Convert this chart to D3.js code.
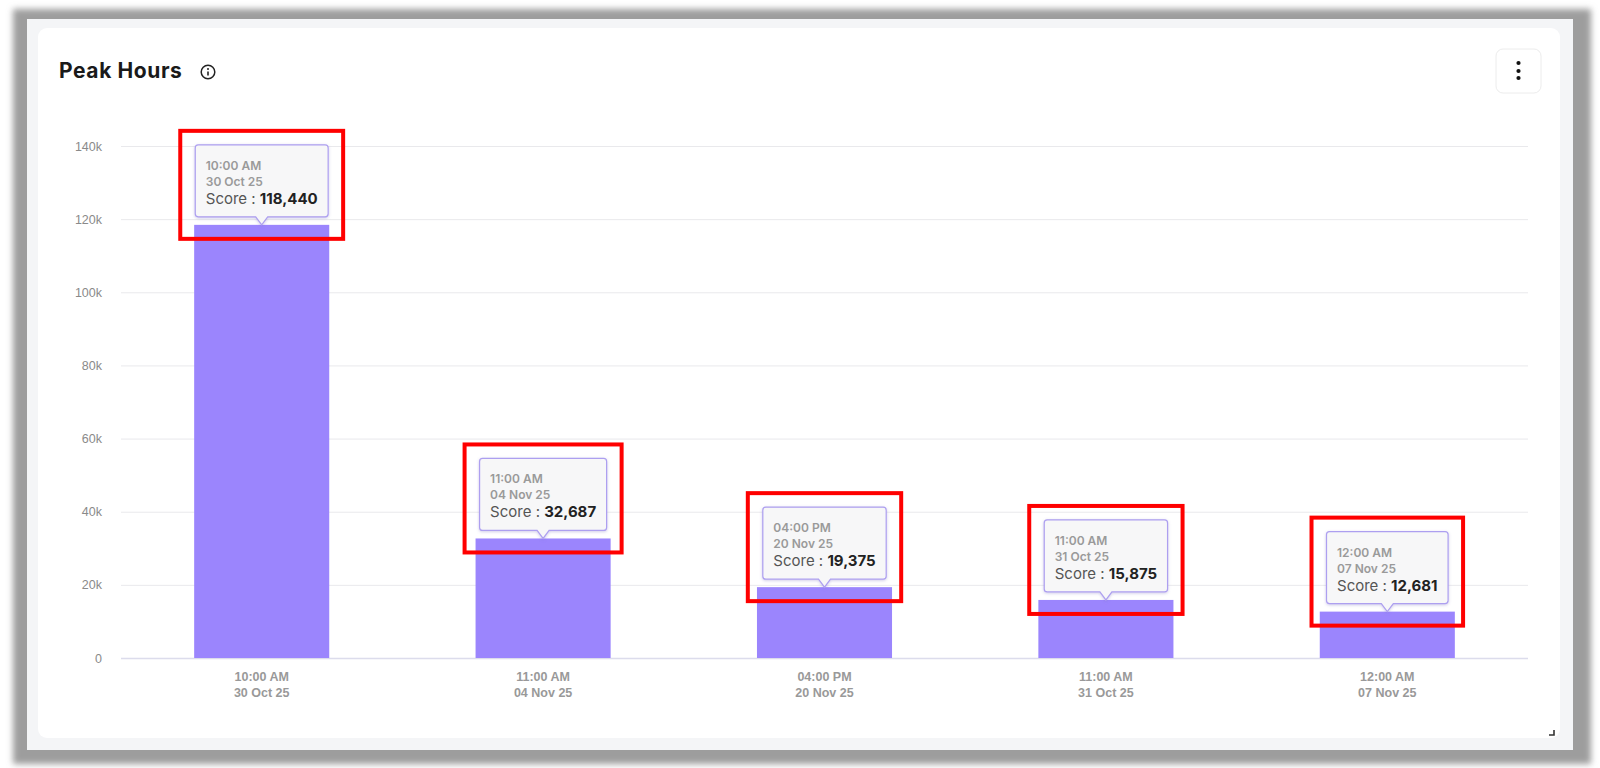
<!DOCTYPE html>
<html>
<head>
<meta charset="utf-8">
<script src="https://cdn.jsdelivr.net/npm/d3@7"></script>
<style>
  body { margin: 0; background: #fff; }
  svg { display: block; font-family: Inter, "Open Sans", sans-serif; }
</style>
</head>
<body>
<div id="wrapper"></div>
<script>
const times = ["10:00 AM", "11:00 AM", "04:00 PM", "11:00 AM", "12:00 AM"]
const dates = ["30 Oct 25", "04 Nov 25", "20 Nov 25", "31 Oct 25", "07 Nov 25"]
const scores = [118440, 32687, 19375, 15875, 12681]
const yTicks = [0, 20000, 40000, 60000, 80000, 100000, 120000, 140000]

function drawChart() {
  const data = times.map((t, i) => ({ key: i, time: t, date: dates[i], score: scores[i] }))

  let dimensions = {
    width: 1600,
    height: 768,
    margin: { top: 146, right: 72, bottom: 110, left: 121 },
  }
  dimensions.boundedWidth = dimensions.width - dimensions.margin.left - dimensions.margin.right
  dimensions.boundedHeight = dimensions.height - dimensions.margin.top - dimensions.margin.bottom

  const svg = d3.select("#wrapper")
    .append("svg")
      .attr("width", dimensions.width)
      .attr("height", dimensions.height)

  const defs = svg.append("defs")
  defs.append("filter").attr("id", "frameBlur")
      .attr("x", "-5%").attr("y", "-5%").attr("width", "110%").attr("height", "110%")
    .append("feGaussianBlur").attr("stdDeviation", 3)
  const tipShadow = defs.append("filter").attr("id", "tipShadow")
      .attr("x", "-20%").attr("y", "-20%").attr("width", "140%").attr("height", "140%")
  tipShadow.append("feDropShadow")
      .attr("dx", 0).attr("dy", 1).attr("stdDeviation", 1.5)
      .attr("flood-color", "#7a6fc0").attr("flood-opacity", 0.35)

  // screenshot frame + page background + card
  svg.append("rect")
      .attr("x", 13).attr("y", 9).attr("width", 1578).attr("height", 755)
      .attr("fill", "#9d9d9d").attr("filter", "url(#frameBlur)")
  svg.append("rect")
      .attr("x", 27).attr("y", 19).attr("width", 1546).attr("height", 731)
      .attr("fill", "#f4f5f7")
  svg.append("rect")
      .attr("x", 38).attr("y", 28).attr("width", 1522).attr("height", 710)
      .attr("rx", 9).attr("fill", "#fff")

  // header
  svg.append("text")
      .attr("x", 59).attr("y", 78)
      .attr("font-size", 21).attr("font-weight", 700).attr("fill", "#1a1a1a")
      .attr("letter-spacing", 0.6)
      .text("Peak Hours")
  const info = svg.append("g").attr("transform", "translate(208,72)")
  info.append("circle").attr("r", 6.8).attr("fill", "none").attr("stroke", "#222").attr("stroke-width", 1.5)
  info.append("circle").attr("cy", -3).attr("r", 1).attr("fill", "#222")
  info.append("line").attr("y1", -0.5).attr("y2", 3.5).attr("stroke", "#222").attr("stroke-width", 1.6)

  const menu = svg.append("g").attr("transform", "translate(1496,49)")
  menu.append("rect").attr("width", 45).attr("height", 44).attr("rx", 7)
      .attr("fill", "#fff").attr("stroke", "#ececec")
  menu.selectAll("circle").data([14, 22, 29]).join("circle")
      .attr("cx", 22.5).attr("cy", d => d).attr("r", 2.1).attr("fill", "#111")

  // resize corner
  svg.append("path").attr("d", "M1549,735 L1554,735 L1554,730")
      .attr("fill", "none").attr("stroke", "#333").attr("stroke-width", 1.6)

  const bounds = svg.append("g")
      .attr("transform", `translate(${dimensions.margin.left},${dimensions.margin.top})`)

  const xScale = d3.scaleBand()
      .domain(data.map(d => d.key))
      .range([0, dimensions.boundedWidth])
      .paddingInner(0.52)
      .paddingOuter(0.26)

  const yScale = d3.scaleLinear()
      .domain([0, 140000])
      .range([dimensions.boundedHeight, 0])

  // y axis + grid
  const yAxisGenerator = d3.axisLeft(yScale)
      .tickValues(yTicks)
      .tickSize(-dimensions.boundedWidth)
      .tickPadding(19)
      .tickFormat(d => d === 0 ? "0" : d / 1000 + "k")
  const yAxis = bounds.append("g").call(yAxisGenerator)
  yAxis.select(".domain").remove()
  yAxis.selectAll(".tick line").attr("stroke", "#e9e9ec")
  yAxis.selectAll(".tick text")
      .attr("fill", "#8a8a8a").attr("font-size", 12.5)
  yAxis.selectAll(".tick").filter(d => d === 0).select("line").attr("stroke", "#dcdcec").attr("stroke-width", 1.5)

  // bars
  bounds.selectAll(".bar").data(data).join("rect")
      .attr("class", "bar")
      .attr("x", d => xScale(d.key))
      .attr("y", d => yScale(d.score))
      .attr("width", xScale.bandwidth())
      .attr("height", d => dimensions.boundedHeight - yScale(d.score))
      .attr("fill", "#9b85fd")

  // x axis labels (two lines)
  const xAxisGenerator = d3.axisBottom(xScale).tickSize(0).tickPadding(0).tickFormat("")
  const xAxis = bounds.append("g").call(xAxisGenerator)
      .attr("transform", `translate(0,${dimensions.boundedHeight})`)
  xAxis.select(".domain").remove()
  xAxis.selectAll(".tick text").remove()
  xAxis.selectAll(".tick").each(function (k) {
    const tick = d3.select(this)
    tick.append("text").attr("y", 23).text(data[k].time)
    tick.append("text").attr("y", 39).text(data[k].date)
    tick.selectAll("text")
        .attr("fill", "#999").attr("font-size", 12.5).attr("font-weight", 600)
        .attr("text-anchor", "middle")
  })

  // tooltips
  const tips = bounds.selectAll(".tip").data(data).join("g")
      .attr("class", "tip")
      .attr("transform", d => `translate(${xScale(d.key) + xScale.bandwidth() / 2},${yScale(d.score)})`)

  tips.each(function (d) {
    const g = d3.select(this)
    const boxH = 72, arrow = 8, pad = 10.5
    const red = g.append("rect")
    const shape = g.append("path")
    const txt = g.append("g")
    txt.append("text").attr("y", -boxH - arrow + 25)
        .attr("font-size", 12).attr("font-weight", 600).attr("fill", "#9a9a9a").text(d.time)
    txt.append("text").attr("y", -boxH - arrow + 41)
        .attr("font-size", 12).attr("font-weight", 600).attr("fill", "#9a9a9a").text(d.date)
    const sc = txt.append("text").attr("y", -boxH - arrow + 59).attr("font-size", 15)
    sc.append("tspan").attr("fill", "#555").text("Score : ")
    sc.append("tspan").attr("fill", "#222").attr("font-weight", 700).text(d3.format(",")(d.score))

    const w = Math.max(...txt.selectAll("text").nodes().map(n => n.getComputedTextLength())) + pad * 2
    const x0 = -w / 2, x1 = w / 2, top = -boxH - arrow, bot = -arrow, r = 3
    shape.attr("d", `M${x0 + r},${top} H${x1 - r} Q${x1},${top} ${x1},${top + r} V${bot - r} Q${x1},${bot} ${x1 - r},${bot}
        H6 L0,0 L-6,${bot} H${x0 + r} Q${x0},${bot} ${x0},${bot - r} V${top + r} Q${x0},${top} ${x0 + r},${top} Z`)
      .attr("fill", "#f7f7f8").attr("stroke", "#ad9ff0").attr("stroke-width", 1.2)
      .attr("filter", "url(#tipShadow)")
    txt.attr("transform", `translate(${x0 + pad},0)`)

    red.attr("x", x0 - 15).attr("y", top - 14)
        .attr("width", w + 30).attr("height", boxH + arrow + 14 + 14)
        .attr("fill", "none").attr("stroke", "#ff0000").attr("stroke-width", 4)
  })
}

drawChart()
</script>
</body>
</html>
